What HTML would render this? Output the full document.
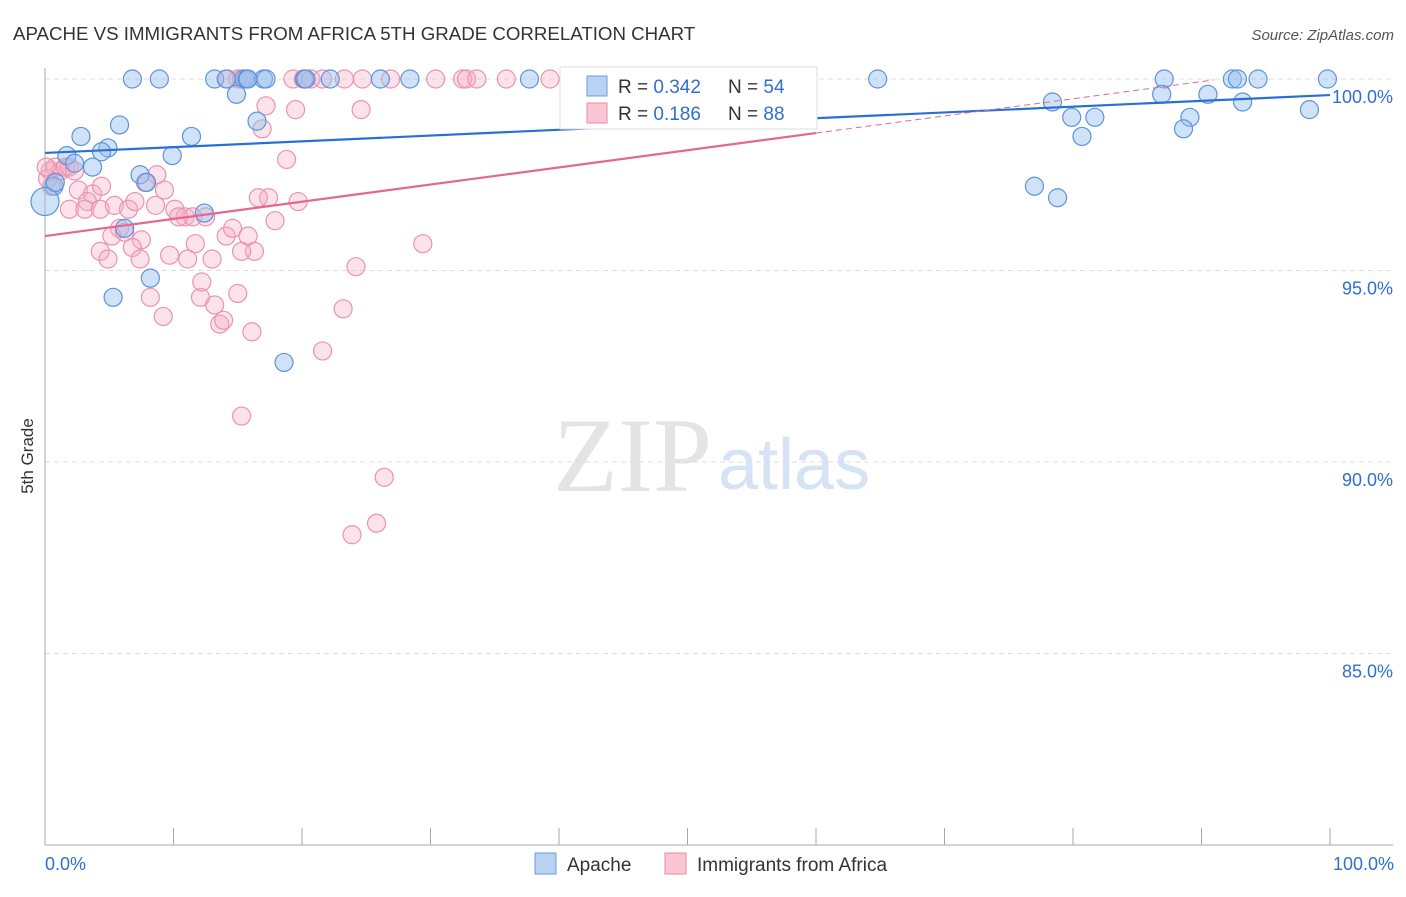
<!DOCTYPE html>
<html><head><meta charset="utf-8"><style>
body{margin:0;background:#fff;font-family:"Liberation Sans",sans-serif}
svg text{font-family:"Liberation Sans",sans-serif}
</style></head><body>
<svg id="chart" width="1406" height="892" viewBox="0 0 1406 892">
<text x="13" y="40" font-size="18.7" fill="#333">APACHE VS IMMIGRANTS FROM AFRICA 5TH GRADE CORRELATION CHART</text>
<text x="1394" y="40" font-size="15" fill="#555" font-style="italic" text-anchor="end">Source: ZipAtlas.com</text>
<text x="553" y="491" font-size="106" fill="#e4e4e4" style="font-family:'Liberation Serif',serif">ZIP</text>
<text x="718" y="489" font-size="72" fill="#d5e3f5">atlas</text>
<text x="33" y="456" font-size="17" fill="#333" text-anchor="middle" transform="rotate(-90 33 456)">5th Grade</text>
<g id="grid"></g><g id="axes"></g><g id="pts"></g><g id="trend"></g>
<g>
<rect x="560" y="67" width="257" height="62" fill="#fff" stroke="#ddd"/>
<rect x="587" y="76" width="20" height="20" fill="#b8d2f2" stroke="#6b9be0"/>
<rect x="587" y="103" width="20" height="20" fill="#f9c6d4" stroke="#e88aa5"/>
<text x="618" y="93" font-size="19" fill="#333">R = <tspan fill="#2f6fd0">0.342</tspan></text>
<text x="728" y="93" font-size="19" fill="#333">N = <tspan fill="#2f6fd0">54</tspan></text>
<text x="618" y="120" font-size="19" fill="#333">R = <tspan fill="#2f6fd0"> 0.186</tspan></text>
<text x="728" y="120" font-size="19" fill="#333">N = <tspan fill="#2f6fd0">88</tspan></text>
</g>
<g>
<rect x="535" y="853" width="21" height="21" fill="#b8d2f2" stroke="#6b9be0"/>
<text x="567" y="871" font-size="19" fill="#333">Apache</text>
<rect x="665" y="853" width="21" height="21" fill="#f9c6d4" stroke="#e88aa5"/>
<text x="697" y="871" font-size="19" fill="#333">Immigrants from Africa</text>
</g>
<text x="45" y="870" font-size="18" fill="#2f6fd0">0.0%</text>
<text x="1394" y="870" font-size="18" fill="#2f6fd0" text-anchor="end">100.0%</text>
</svg>
<script>
const yTicks=[100,95,90,85];
const yTickLabels=["100.0%","95.0%","90.0%","85.0%"];
const xTicks=[0,10,20,30,40,50,60,70,80,90,100];
const apacheX=[6.8,8.9,13.2,14.1,15.5,15.7,17.0,17.2,20.2,22.2,26.1,28.4,37.7,64.8,87.1,92.4,92.8,94.4,99.8,14.9,2.8,5.8,11.4,4.9,4.4,9.9,1.7,2.3,3.7,7.4,7.9,0.7,12.4,6.2,8.2,5.3,18.6,16.5,78.4,86.9,90.5,93.2,98.4,79.9,81.7,89.1,80.7,88.6,77.0,78.8,0,0.8,20.3,15.8];
const apacheY=[100,100,100,100,100,100,100,100,100,100,100,100,100,100,100,100,100,100,100,99.6,98.5,98.8,98.5,98.2,98.1,98.0,98.0,97.8,97.7,97.5,97.3,97.2,96.5,96.1,94.8,94.3,92.6,98.9,99.4,99.6,99.6,99.4,99.2,99.0,99.0,99.0,98.5,98.7,97.2,96.9,96.8,97.3,100,100];
const africaX=[14.2,15.0,15.3,19.3,20.1,20.7,21.6,23.3,24.7,26.9,30.4,32.5,32.8,33.6,35.9,39.3,54.6,17.2,19.5,24.6,16.9,18.8,0.4,0.8,1.2,1.6,1.9,2.3,0.5,0.2,2.6,3.7,3.3,4.4,1.9,3.1,4.3,5.4,6.5,7.0,8.6,9.3,8.7,7.8,10.1,10.9,11.5,12.5,10.4,5.8,5.2,6.2,7.5,4.3,4.9,6.8,7.4,9.7,11.1,11.7,13.0,14.1,14.6,15.8,16.3,15.3,17.4,16.6,17.9,19.7,8.2,9.2,12.1,12.2,13.2,13.6,13.9,15.0,16.1,21.6,23.2,24.2,29.4,15.3,26.4,25.8,23.9,0.1];
const africaY=[100,100,100,100,100,100,100,100,100,100,100,100,100,100,100,100,100,99.3,99.2,99.2,98.7,97.9,97.6,97.7,97.6,97.7,97.7,97.6,97.2,97.4,97.1,97.0,96.8,97.2,96.6,96.6,96.6,96.7,96.6,96.8,96.7,97.1,97.5,97.3,96.6,96.4,96.4,96.4,96.4,96.1,95.9,96.0,95.8,95.5,95.3,95.6,95.3,95.4,95.3,95.7,95.3,95.9,96.1,95.9,95.5,95.5,96.9,96.9,96.3,96.8,94.3,93.8,94.3,94.7,94.1,93.6,93.7,94.4,93.4,92.9,94.0,95.1,95.7,91.2,89.6,88.4,88.1,97.7];
const apacheTrend=[98.07,99.58];
const africaTrend=[95.9,100.38];
const africaSolidEnd=60;

const NS="http://www.w3.org/2000/svg";
const X=v=>45+v*12.85;
const Y=v=>79+(100-v)*38.3;
function mk(tag,attrs,parent){const e=document.createElementNS(NS,tag);for(const k in attrs)e.setAttribute(k,attrs[k]);document.getElementById(parent).appendChild(e);return e;}
yTicks.forEach((t,i)=>{
 const l=mk('line',{x1:45,x2:1393,y1:Y(t),y2:Y(t),stroke:'#ddd','stroke-dasharray':'5,4'},'grid');
 
 
 const tx=mk('text',{x:1393,y:Y(t)+24,'font-size':18,fill:'#2f6fd0','text-anchor':'end'},'grid');
 tx.textContent=yTickLabels[i];
 
 
});
let a=mk('line',{x1:45,x2:45,y1:68,y2:845,stroke:'#aaa'},'axes');


a=mk('line',{x1:45,x2:1393,y1:845,y2:845,stroke:'#aaa'},'axes');


xTicks.forEach(t=>{
 const l=mk('line',{x1:X(t),x2:X(t),y1:828,y2:845,stroke:'#aaa'},'axes');
 
 
});
function pts(xs,ys,fill,stroke,name){
 xs.forEach((x,i)=>{
  const r=(x===0&&name==='apache-point')?14:9;
  const c=mk('circle',{cx:X(x),cy:Y(ys[i]),r:r,fill:fill,stroke:stroke,'stroke-width':1.2},'pts');
  
  
 });
}
pts(africaX,africaY,'rgba(246,172,194,0.35)','#eb93ad','africa-point');
pts(apacheX,apacheY,'rgba(150,190,238,0.45)','#5d93db','apache-point');
let t=mk('line',{x1:X(0),y1:Y(apacheTrend[0]),x2:X(100),y2:Y(apacheTrend[1]),stroke:'#2a6fd6','stroke-width':2.2},'trend');


const ay=v=>africaTrend[0]+(africaTrend[1]-africaTrend[0])*v/100;
t=mk('line',{x1:X(0),y1:Y(ay(0)),x2:X(africaSolidEnd),y2:Y(ay(africaSolidEnd)),stroke:'#e5678f','stroke-width':2.2},'trend');


t=mk('line',{x1:X(africaSolidEnd),y1:Y(ay(africaSolidEnd)),x2:X(91),y2:Y(ay(91)),stroke:'#e5678f','stroke-width':1,'stroke-dasharray':'6,4'},'trend');


</script>
</body></html>
